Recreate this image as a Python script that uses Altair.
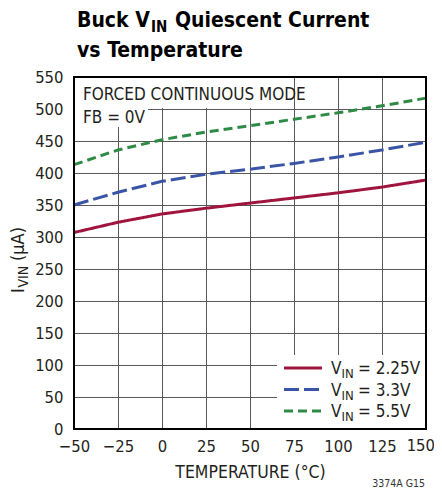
import altair as alt
import pandas as pd

temps = [-50, -25, 0, 25, 50, 75, 100, 125, 150]
i_225 = [307, 323, 336, 345, 353, 361, 369, 378, 389]
i_33 = [350, 370, 387, 398, 406, 415, 425, 436, 448]
i_55 = [413, 436, 452, 464, 474, 484, 494, 505, 517]
series_names = ["2.25V", "3.3V", "5.5V"]
series_colors = ["#a0153e", "#3b55a6", "#2e8b46"]
series_dash = [[1, 0], [15, 5], [9, 5]]
x_ticks = [-50, -25, 0, 25, 50, 75, 100, 125, 150]
y_ticks = [0, 50, 100, 150, 200, 250, 300, 350, 400, 450, 500, 550]
note_lines = ["FORCED CONTINUOUS MODE", "FB = 0V"]

FONT = "DejaVu Sans Condensed, Liberation Sans Narrow, sans-serif"
TXT = "#231f20"
W, H = 352, 352
LABEL_SIZE = 16.5
LABEL_PAD = 9

rows = []
for name, vals in zip(series_names, [i_225, i_33, i_55]):
    for t, v in zip(temps, vals):
        rows.append({"temp": t, "current": v, "series": name})
df = pd.DataFrame(rows)

one = alt.Data(values=[{"k": 0}])

last_x = x_ticks[-1]

lines = alt.Chart(df).mark_line(strokeWidth=3).encode(
    x=alt.X("temp:Q", scale=alt.Scale(domain=[x_ticks[0], last_x], nice=False),
            axis=alt.Axis(values=x_ticks, title="TEMPERATURE (°C)", grid=True,
                          gridColor="#5a5a5a", gridWidth=1, domain=False, ticks=False,
                          labelExpr=f"datum.value == {last_x} ? '' : datum.label",
                          labelFont=FONT, labelFontSize=LABEL_SIZE, labelColor=TXT,
                          labelPadding=LABEL_PAD,
                          titleFont=FONT, titleFontSize=17.5, titleFontWeight="normal",
                          titleColor=TXT, titlePadding=9, labelFlush=False)),
    y=alt.Y("current:Q", scale=alt.Scale(domain=[y_ticks[0], y_ticks[-1]], nice=False),
            axis=alt.Axis(values=y_ticks, title=None, grid=True,
                          gridColor="#5a5a5a", gridWidth=1, domain=False, ticks=False,
                          labelFont=FONT, labelFontSize=LABEL_SIZE, labelColor=TXT, labelPadding=11,
                          labelFlush=False)),
    color=alt.Color("series:N", scale=alt.Scale(domain=series_names, range=series_colors), legend=None),
    strokeDash=alt.StrokeDash("series:N", scale=alt.Scale(domain=series_names, range=series_dash), legend=None),
)

layers = []

# annotation box backgrounds
layers.append(alt.Chart(one).mark_rect(fill="white").encode(
    x=alt.value(0), x2=alt.value(216), y=alt.value(0), y2=alt.value(31)))
layers.append(alt.Chart(one).mark_rect(fill="white").encode(
    x=alt.value(0), x2=alt.value(74), y=alt.value(31), y2=alt.value(50)))
# legend background
layers.append(alt.Chart(one).mark_rect(fill="white").encode(
    x=alt.value(203), x2=alt.value(352), y=alt.value(278), y2=alt.value(352)))

layers.append(lines)

# last x tick label, kept inside the page
layers.append(alt.Chart(one).mark_text(
    text=str(last_x), font=FONT, fontSize=LABEL_SIZE, color=TXT,
    align="right", baseline="top").encode(x=alt.value(W + 9), y=alt.value(H + LABEL_PAD)))

# note text
for i, line in enumerate(note_lines):
    layers.append(alt.Chart(one).mark_text(
        text=line, font=FONT, fontSize=17, color=TXT, align="left", baseline="alphabetic").encode(
        x=alt.value(9), y=alt.value(23 + 23 * i)))

# legend
for i, (name, col, dash) in enumerate(zip(series_names, series_colors, series_dash)):
    yy = 291 + 21.5 * i
    layers.append(alt.Chart(one).mark_rule(color=col, strokeWidth=3, strokeDash=dash).encode(
        x=alt.value(210), x2=alt.value(248), y=alt.value(yy)))
    layers.append(alt.Chart(one).mark_text(
        text="V", font=FONT, fontSize=17, color=TXT, align="left", baseline="alphabetic").encode(
        x=alt.value(257), y=alt.value(yy + 6)))
    layers.append(alt.Chart(one).mark_text(
        text="IN", font=FONT, fontSize=13, color=TXT, align="left", baseline="alphabetic").encode(
        x=alt.value(267.5), y=alt.value(yy + 10)))
    layers.append(alt.Chart(one).mark_text(
        text="= " + name, font=FONT, fontSize=17, color=TXT, align="left", baseline="alphabetic").encode(
        x=alt.value(284), y=alt.value(yy + 6)))

# frame
layers.append(alt.Chart(one).mark_rect(fillOpacity=0, stroke="black", strokeWidth=2).encode(
    x=alt.value(0), x2=alt.value(W), y=alt.value(0), y2=alt.value(H)))

# title
layers.append(alt.Chart(one).mark_text(
    text="Buck V", font=FONT, fontSize=21, fontWeight="bold", color="black",
    align="left", baseline="alphabetic").encode(x=alt.value(3), y=alt.value(-50)))
layers.append(alt.Chart(one).mark_text(
    text="IN", font=FONT, fontSize=15, fontWeight="bold", color="black",
    align="left", baseline="alphabetic").encode(x=alt.value(77), y=alt.value(-45)))
layers.append(alt.Chart(one).mark_text(
    text="Quiescent Current", font=FONT, fontSize=21, fontWeight="bold", color="black",
    align="left", baseline="alphabetic").encode(x=alt.value(101), y=alt.value(-50)))
layers.append(alt.Chart(one).mark_text(
    text="vs Temperature", font=FONT, fontSize=21, fontWeight="bold", color="black",
    align="left", baseline="alphabetic").encode(x=alt.value(3), y=alt.value(-20)))

# y-axis title (rotated)
layers.append(alt.Chart(one).mark_text(
    text="I", font=FONT, fontSize=18, color=TXT, angle=270,
    align="left", baseline="alphabetic").encode(x=alt.value(-50), y=alt.value(216)))
layers.append(alt.Chart(one).mark_text(
    text="VIN", font=FONT, fontSize=14, color=TXT, angle=270,
    align="left", baseline="alphabetic").encode(x=alt.value(-46), y=alt.value(210.5)))
layers.append(alt.Chart(one).mark_text(
    text="(µA)", font=FONT, fontSize=18, color=TXT, angle=270,
    align="left", baseline="alphabetic").encode(x=alt.value(-50), y=alt.value(184)))

# figure code
layers.append(alt.Chart(one).mark_text(
    text="3374A G15", font=FONT, fontSize=10.5, color="#333333",
    align="right", baseline="alphabetic").encode(x=alt.value(351), y=alt.value(410)))

chart = alt.layer(*layers).properties(
    width=W, height=H,
    autosize=alt.AutoSizeParams(type="none"),
    padding={"left": 66, "top": 69, "right": 8, "bottom": 60},
).configure_view(stroke=None).configure(background="white")

chart.save("out.html", embed_options={"renderer": "svg", "actions": False})
